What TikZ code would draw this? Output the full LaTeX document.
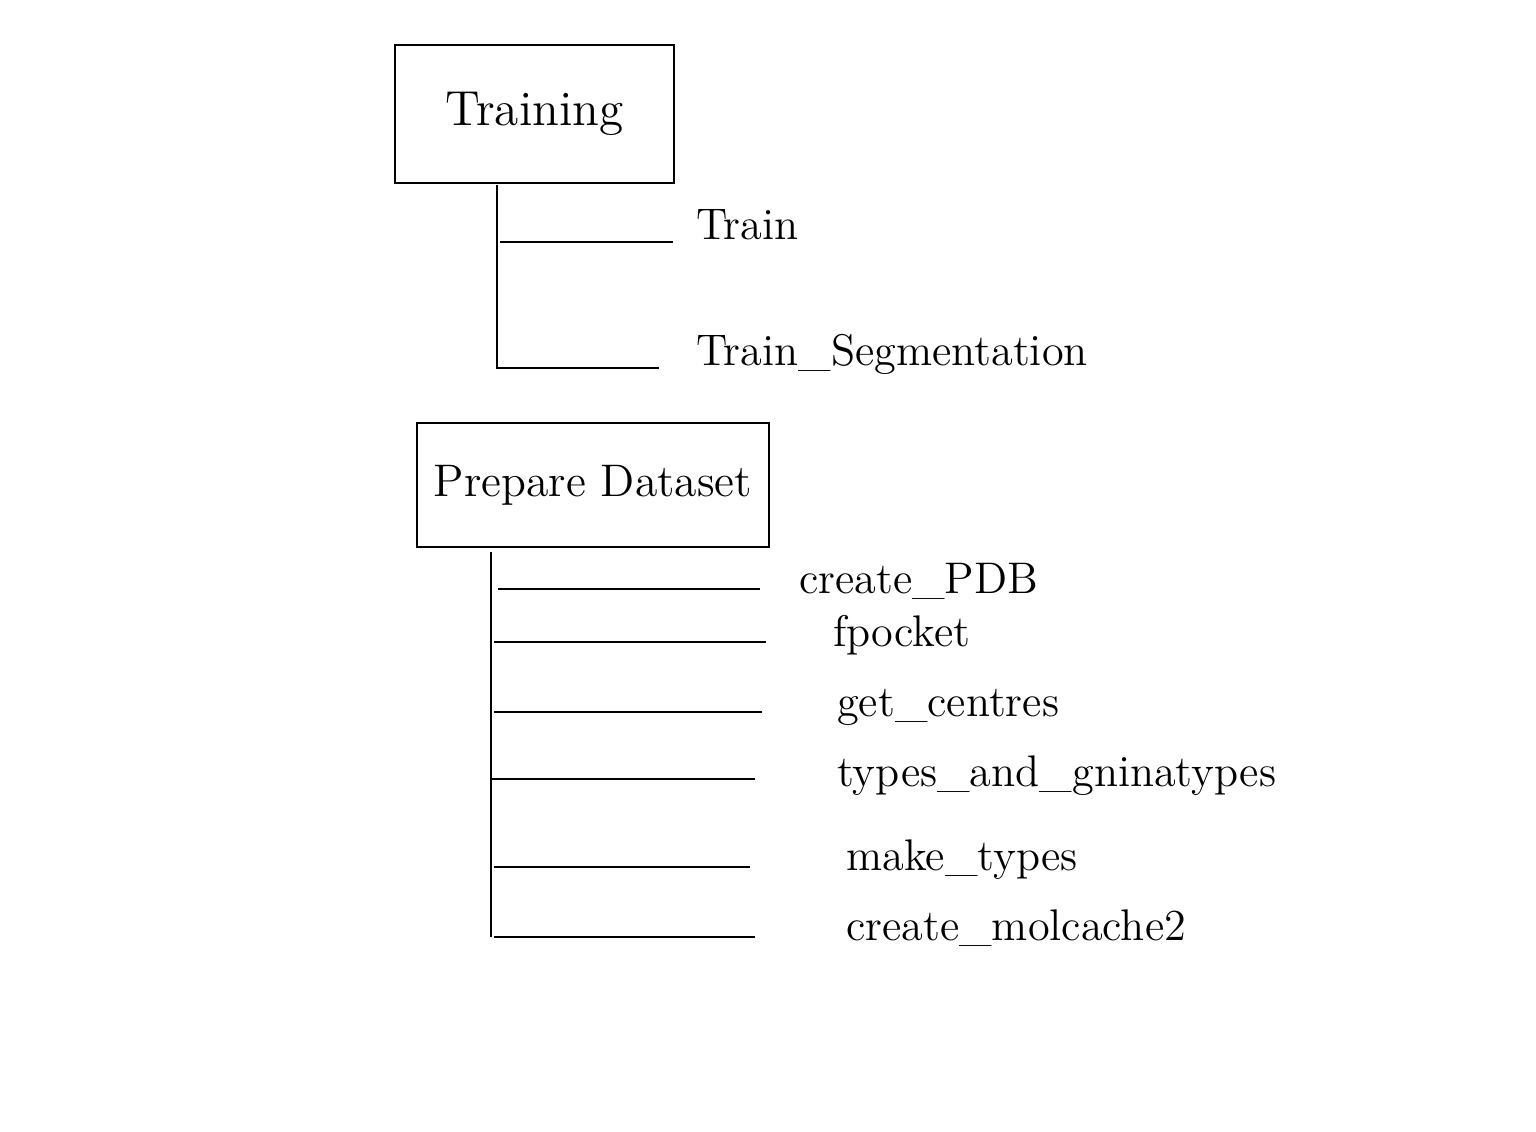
\documentclass[tikz,border=0pt]{standalone}
\usetikzlibrary{positioning}

\begin{document}
\begin{tikzpicture}[line width=0.7pt,
  titlebox/.style={rectangle,draw,align=center,font=\fontsize{14}{16}\selectfont},
  leaf/.style={anchor=base west,inner sep=0pt,font=\fontsize{12.6}{15}\selectfont}]
\useasboundingbox (0,0) rectangle (15.36,-11.32);

\node[titlebox,minimum width=2.79cm,minimum height=1.38cm] (training) at (5.345,-1.14) {Training};
\node[titlebox,minimum width=3.52cm,minimum height=1.24cm,inner sep=2pt,font=\fontsize{13}{15}\selectfont] (prepare) at (5.93,-4.85) {Prepare Dataset};

\node[leaf] (train) at (6.95,-2.40) {Train};
\node[leaf] (trainseg) at (6.95,-3.66) {Train\_Segmentation};

\node[leaf] (createpdb) at (7.98,-5.93) {create\_PDB};
\node[leaf] (fpocket) at (8.32,-6.46) {fpocket};
\node[leaf] (getcentres) at (8.36,-7.16) {get\_centres};
\node[leaf] (typesgnina) at (8.36,-7.86) {types\_and\_gninatypes};
\node[leaf] (maketypes) at (8.45,-8.70) {make\_types};
\node[leaf] (molcache) at (8.45,-9.40) {create\_molcache2};

% training branches
\coordinate (t0) at (4.97,-1.85);
\coordinate (t1) at (4.97,-3.68);
\coordinate (t1e) at (6.59,-3.68);
\coordinate (ta) at (5.00,-2.42);
\coordinate (tae) at (6.73,-2.42);
\draw (t0) -- (t1) -- (t1e);
\draw (ta) -- (tae);

% dataset branches
\coordinate (d0) at (4.91,-5.52);
\coordinate (d1) at (4.91,-9.37);
\coordinate (da) at (4.98,-5.89);  \coordinate (dae) at (7.60,-5.89);
\coordinate (db) at (4.94,-6.42);  \coordinate (dbe) at (7.66,-6.42);
\coordinate (dc) at (4.94,-7.12);  \coordinate (dce) at (7.62,-7.12);
\coordinate (dd) at (4.92,-7.79);  \coordinate (dde) at (7.55,-7.79);
\coordinate (de) at (4.94,-8.67);  \coordinate (dee) at (7.50,-8.67);
\coordinate (df) at (4.94,-9.37);  \coordinate (dfe) at (7.55,-9.37);
\draw (d0) -- (d1);
\draw (da) -- (dae);
\draw (db) -- (dbe);
\draw (dc) -- (dce);
\draw (dd) -- (dde);
\draw (de) -- (dee);
\draw (df) -- (dfe);

\end{tikzpicture}
\end{document}
